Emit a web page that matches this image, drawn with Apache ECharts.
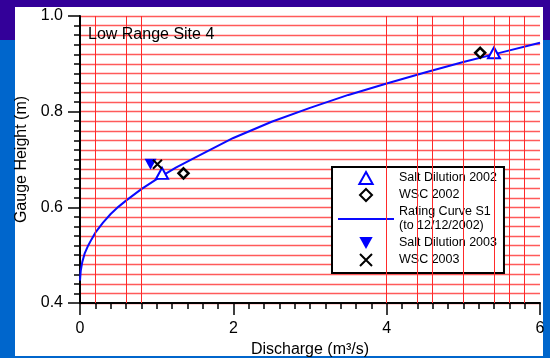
<!DOCTYPE html>
<html lang="en">
<head>
<meta charset="UTF-8">
<title>Low Range Site 4</title>
<style>
    * { margin: 0; padding: 0; }
    html, body { width: 100%; height: 100%; }
    #main { width: 550px; height: 358px; }
</style>
</head>
<body>
<div id="main"></div>
<script src="https://cdn.jsdelivr.net/npm/echarts@6/dist/echarts.min.js"></script>
<script>
    var myChart = echarts.init(document.getElementById('main'));

    // measurements: [discharge m3/s, gauge height m]
    var saltDilution2002 = [[1.07, 0.671], [5.40, 0.923]];
    var wsc2002 = [[1.35, 0.671], [5.22, 0.923]];
    var saltDilution2003 = [[0.92, 0.690]];
    var wsc2003 = [[1.01, 0.690]];

    // rating curve
    var curveQ = [0, 0.01, 0.03, 0.06, 0.1, 0.15, 0.2, 0.3, 0.4, 0.5, 0.6, 0.8, 1.0, 1.25, 1.5, 2, 2.5, 3, 3.5, 4, 4.5, 5, 5.5, 6];
    var curveH = [0.447, 0.468, 0.486, 0.503, 0.518, 0.533, 0.547, 0.568, 0.586, 0.601, 0.614, 0.638, 0.659, 0.683, 0.704, 0.745, 0.779, 0.808, 0.835, 0.859, 0.882, 0.904, 0.924, 0.944];

    // vertical red rules only at these discharges
    var vRules = [0.2, 0.6, 0.8, 4, 4.4, 4.6, 5, 5.4, 5.6, 5.8];

    var names = ['Salt Dilution 2002', 'WSC 2002', 'Rating Curve S1', 'Salt Dilution 2003', 'WSC 2003'];

    var triUp = 'path://M5,0L10,9L0,9Z';
    var triDown = 'path://M0,0L10,0L5,9Z';
    var diamond = 'path://M5,0L10,5L5,10L0,5Z';
    var cross = 'path://M0,0L10,10M10,0L0,10';
    var legendIcons = [triUp, diamond, 'path://M0,0L56,0L56,2L0,2Z', triDown, cross];

    var font = "'Liberation Sans', Arial, sans-serif";
    var curve = [];
    for (var i = 0; i < curveQ.length; i++) {
        curve.push([curveQ[i], curveH[i]]);
    }
    var legendData = names.map(function (n, k) {
        return { name: n, icon: legendIcons[k] };
    });

    // each axis gets its own option objects (sharing one lineStyle hid the ticks)
    function makeAxis(extra) {
        var a = {
            type: 'value',
            nameLocation: 'middle',
            nameTextStyle: { fontSize: 16, color: '#000', fontFamily: font },
            axisLine: { show: true, onZero: false, lineStyle: { color: '#000', width: 2 } },
            axisTick: { show: true, length: 12, lineStyle: { color: '#000', width: 1.5 } },
            minorTick: { show: true, splitNumber: 10, length: 6, lineStyle: { color: '#000', width: 1.5 } },
            axisLabel: { fontSize: 16, color: '#000', fontFamily: font }
        };
        for (var k in extra) a[k] = extra[k];
        return a;
    }

    var option = {
        animation: false,
        backgroundColor: '#0066cc',
        textStyle: { fontFamily: font },
        graphic: [
            { type: 'rect', zlevel: -1, z: 0, shape: { x: 0, y: 0, width: 550, height: 40 }, style: { fill: '#330099' } },
            { type: 'rect', zlevel: -1, z: 1, shape: { x: 15, y: 7, width: 528, height: 349 }, style: { fill: '#ffffff' } }
        ],
        title: {
            text: 'Low Range Site 4',
            left: 88,
            top: 26,
            padding: 0,
            textStyle: { fontSize: 16, fontWeight: 'normal', color: '#000', fontFamily: font, lineHeight: 18 }
        },
        grid: { left: 80, right: 10, top: 16, bottom: 55, containLabel: false, outerBoundsMode: 'none' },
        legend: {
            data: legendData,
            orient: 'vertical',
            left: 332,
            top: 167,
            padding: [4, 7, 6, 6],
            itemWidth: 56,
            itemHeight: 12,
            itemGap: 3,
            symbolKeepAspect: true,
            backgroundColor: '#fff',
            borderColor: '#000',
            borderWidth: 2,
            borderRadius: 0,
            textStyle: { fontSize: 12.5, lineHeight: 14, color: '#000', fontFamily: font },
            formatter: function (name) {
                return name === 'Rating Curve S1' ? name + '\n(to 12/12/2002)' : name;
            }
        },
        xAxis: makeAxis({
            min: 0,
            max: 6,
            interval: 2,
            name: 'Discharge (m³/s)',
            nameGap: 37,
            splitLine: { show: false },
            axisLabel: { fontSize: 16, color: '#000', margin: 18, fontFamily: font }
        }),
        yAxis: makeAxis({
            min: 0.4,
            max: 1.0,
            interval: 0.2,
            name: 'Gauge Height (m)',
            nameGap: 45,
            splitLine: { show: true, lineStyle: { color: '#ff5a5a', width: 1.3 } },
            minorSplitLine: { show: true, lineStyle: { color: '#ff5a5a', width: 1.3 } },
            axisLabel: {
                fontSize: 16, color: '#000', margin: 17, fontFamily: font,
                formatter: function (v) { return v.toFixed(1); }
            }
        }),
        series: [
            {
                name: 'rules',
                type: 'line',
                z: 1,
                data: [],
                markLine: {
                    silent: true,
                    symbol: ['none', 'none'],
                    label: { show: false },
                    lineStyle: { color: '#ff2a2a', width: 1, type: 'solid' },
                    data: vRules.map(function (v) { return { xAxis: v }; })
                }
            },
            {
                name: 'Rating Curve S1',
                type: 'line',
                data: curve,
                showSymbol: false,
                symbol: 'none',
                smooth: false,
                lineStyle: { color: '#0a0aff', width: 2 },
                itemStyle: { color: '#0a0aff' },
                z: 3
            },
            {
                name: 'Salt Dilution 2002',
                type: 'scatter',
                data: saltDilution2002,
                symbol: triUp,
                symbolSize: [12, 11],
                itemStyle: { color: '#fff', borderColor: '#0000ff', borderWidth: 2, opacity: 1 },
                z: 4
            },
            {
                name: 'WSC 2002',
                type: 'scatter',
                data: wsc2002,
                symbol: diamond,
                symbolSize: 10,
                itemStyle: { color: '#fff', borderColor: '#000', borderWidth: 2.5, opacity: 1 },
                z: 4
            },
            {
                name: 'Salt Dilution 2003',
                type: 'scatter',
                data: saltDilution2003,
                symbol: triDown,
                symbolSize: [12, 11],
                itemStyle: { color: '#0000ff', opacity: 1 },
                z: 4
            },
            {
                name: 'WSC 2003',
                type: 'scatter',
                data: wsc2003,
                symbol: cross,
                symbolSize: 9,
                itemStyle: { color: 'transparent', borderColor: '#000', borderWidth: 2, opacity: 1 },
                z: 4
            }
        ]
    };

    myChart.setOption(option);
    window.onresize = function () {
        myChart.resize();
    };
</script>
</body>
</html>
